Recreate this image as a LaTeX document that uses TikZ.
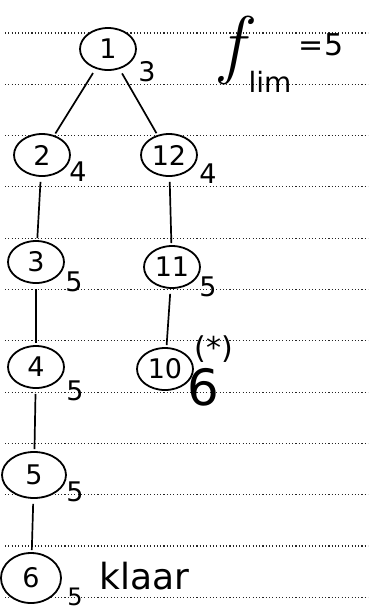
\documentclass[tikz,border=0pt]{standalone}
\usepackage{fontspec}
\setmainfont{DejaVu Sans}
\newfontfamily\lmrfam{Latin Modern Roman}
\usetikzlibrary{shapes.geometric}
\begin{document}
\begin{tikzpicture}[x=1pt,y=-1pt,
  st/.style={draw,ellipse,fill=white,line width=1.8pt,minimum width=56pt,minimum height=42pt,inner sep=0pt,font=\fontsize{27}{29}\selectfont},
  lbl/.style={font=\fontsize{27}{29}\selectfont,inner sep=0pt},
  edge/.style={line width=1.7pt,shorten <=5pt,shorten >=2pt},
  ruled/.style={line width=1.1pt,black!85,dash pattern=on 1.1pt off 2.2pt}]
\useasboundingbox (0,0) rectangle (368,614);
\foreach \k in {0,...,11}{
  \draw[ruled] (5,{33+51.3*\k}) -- (368,{33+51.3*\k});
}
\node[st] (n1) at (108,49) {1};
\node[st] (n2) at (42,155) {2};
\node[st] (n12) at (169,155) {12};
\node[st] (n3) at (36,262) {3};
\node[st] (n11) at (172,267) {11};
\node[st] (n4) at (36,367) {4};
\node[st] (n10) at (165,369) {10};
\node[st,minimum width=64pt,minimum height=46pt] (n5) at (34,475) {5};
\node[st,minimum width=60pt,minimum height=50pt] (n6) at (31,578) {6};
\node[lbl] (l1) at (147,72) {3};
\node[lbl] (l2) at (78,172) {4};
\node[lbl] (l12) at (208,174) {4};
\node[lbl] (l3) at (74,282) {5};
\node[lbl] (l11) at (208,287) {5};
\node[lbl] (l4) at (75,391) {5};
\node[lbl,font=\fontsize{50}{52}\selectfont] (l10) at (203,387) {6};
\node[lbl,font=\fontsize{30}{32}\selectfont] (star) at (214,349) {(*)};
\node[lbl] (l5) at (75,492) {5};
\node[lbl,font=\fontsize{24}{26}\selectfont] (l6) at (75,597) {5};
\node[lbl,anchor=west,font=\fontsize{36}{38}\selectfont] (klaar) at (99,576) {klaar};
\node[lbl,font=\lmrfam\itshape\fontsize{76}{78}\selectfont] (f) at (232,50) {f};
\node[lbl,font=\fontsize{28}{30}\selectfont] (lim) at (270,82) {lim};
\node[lbl,font=\fontsize{30}{32}\selectfont] (eq) at (321,45) {=5};
\draw[edge] (n1) -- (n2);
\draw[edge] (n1) -- (n12);
\draw[edge] (n2) -- (n3);
\draw[edge] (n12) -- (n11);
\draw[edge] (n3) -- (n4);
\draw[edge] (n11) -- (n10);
\draw[edge] (n4) -- (n5);
\draw[edge] (n5) -- (n6);
\end{tikzpicture}
\end{document}
